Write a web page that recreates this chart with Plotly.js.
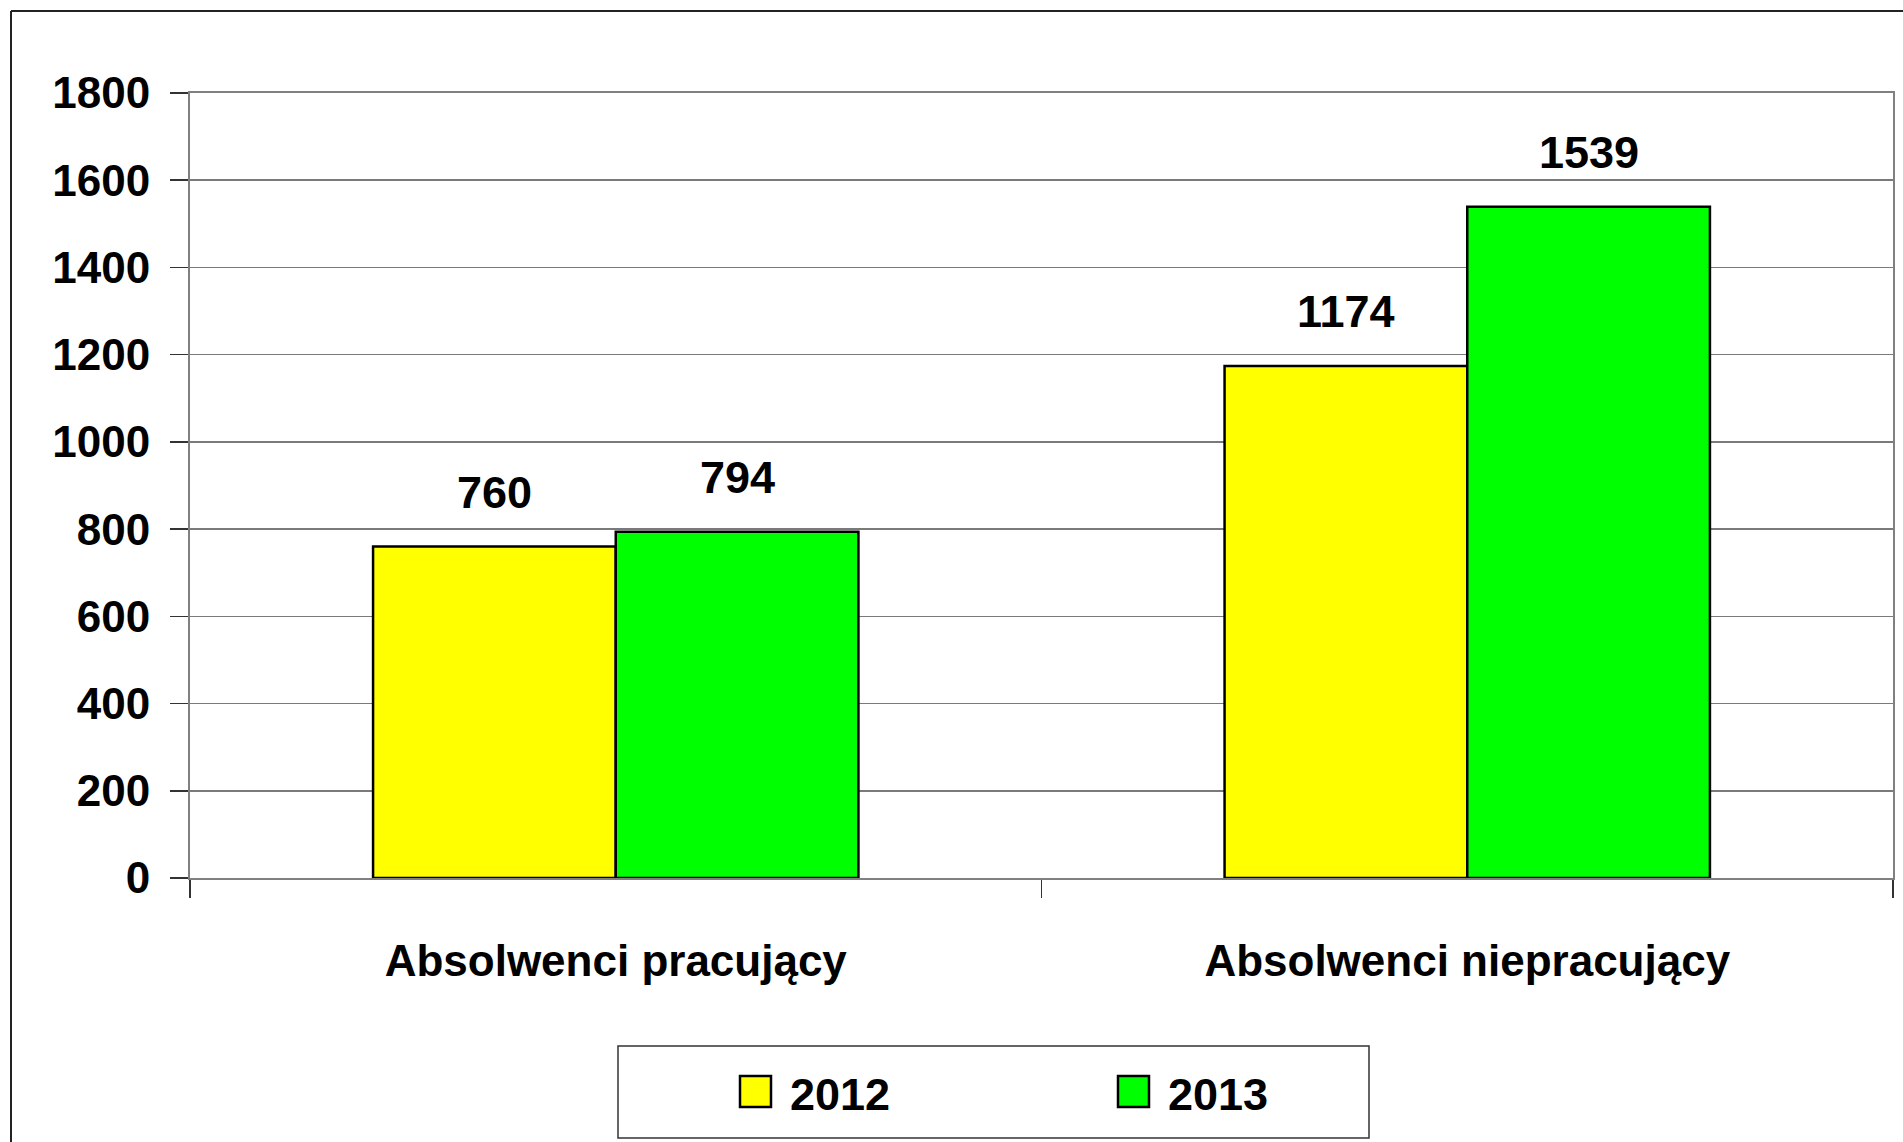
<!DOCTYPE html>
<html>
<head>
<meta charset="utf-8">
<script src="https://cdn.plot.ly/plotly-3.0.1.min.js"></script>
<style>
  html, body { margin: 0; padding: 0; background: #ffffff; }
  #chart { width: 1903px; height: 1142px; }
</style>
</head>
<body>
<div id="chart"></div>
<script>
// ---- data ----
const categories = ['Absolwenci pracujący', 'Absolwenci niepracujący'];
const seriesNames = ['2012', '2013'];
const values2012 = [760, 1174];
const values2013 = [794, 1539];
const yTickValues = [0, 200, 400, 600, 800, 1000, 1200, 1400, 1600, 1800];
const yRange = [0, 1800];

// ---- styles ----
const seriesColors = ['#FFFF00', '#00FF00'];
const FONT = '"Liberation Sans", Arial, sans-serif';
const W = 1903, H = 1142;
const M = { l: 190, r: 10, t: 93, b: 264 };
const PW = W - M.l - M.r, PH = H - M.t - M.b;
const BARGAP = 0.43;
const px = x => (x - M.l) / PW;
const py = y => (M.t + PH - y) / PH;

const seriesValues = [values2012, values2013];
const traces = seriesNames.map((name, i) => ({
  type: 'bar',
  name: name,
  x: categories,
  y: seriesValues[i],
  marker: { color: seriesColors[i], line: { color: '#000000', width: 2.5 } },
  showlegend: false,
  hoverinfo: 'x+y+name'
}));

// data labels above each bar
const catWidthPx = PW / categories.length;
const barWidthPx = catWidthPx * (1 - BARGAP) / seriesNames.length;
const annotations = [];
seriesNames.forEach((name, i) => {
  const shift = (i - (seriesNames.length - 1) / 2) * barWidthPx;
  categories.forEach((c, j) => {
    annotations.push({
      x: c, y: seriesValues[i][j], xref: 'x', yref: 'y',
      text: String(seriesValues[i][j]),
      showarrow: false, xanchor: 'center', yanchor: 'bottom',
      xshift: shift, yshift: 27,
      font: { family: FONT, size: 45, color: '#000000', weight: 'bold' }
    });
  });
});

// manual legend (box, swatches, labels)
const shapes = [
  // outer chart border (left and top)
  { type: 'line', xref: 'paper', yref: 'paper', x0: px(11), y0: py(11), x1: px(W + 5), y1: py(11), line: { color: '#222222', width: 2 } },
  { type: 'line', xref: 'paper', yref: 'paper', x0: px(11), y0: py(11), x1: px(11), y1: py(H + 5), line: { color: '#222222', width: 2 } },
  // legend box
  { type: 'rect', xref: 'paper', yref: 'paper', x0: px(618), y0: py(1138), x1: px(1369), y1: py(1046), line: { color: '#333333', width: 1.5 }, fillcolor: 'rgba(0,0,0,0)' }
];
const legendSwatchX = [740, 1118];
seriesNames.forEach((name, i) => {
  shapes.push({ type: 'rect', xref: 'paper', yref: 'paper',
    x0: px(legendSwatchX[i]), x1: px(legendSwatchX[i] + 31), y0: py(1107), y1: py(1076),
    fillcolor: seriesColors[i], line: { color: '#000000', width: 2.5 } });
  annotations.push({ xref: 'paper', yref: 'paper', x: px(legendSwatchX[i] + 48), y: py(1094),
    xanchor: 'left', yanchor: 'middle', showarrow: false, text: name,
    font: { family: FONT, size: 45, color: '#000000', weight: 'bold' } });
});

const layout = {
  width: W, height: H,
  margin: { l: M.l, r: M.r, t: M.t, b: M.b, pad: 0 },
  paper_bgcolor: '#ffffff', plot_bgcolor: '#ffffff',
  barmode: 'group', bargap: BARGAP, bargroupgap: 0,
  showlegend: false,
  xaxis: {
    type: 'category', tickson: 'boundaries',
    ticks: 'outside', ticklen: 18, tickwidth: 1.5, tickcolor: '#333333',
    showline: true, linecolor: '#808080', linewidth: 2, mirror: true,
    showgrid: false, zeroline: false,
    ticklabelstandoff: 43,
    tickfont: { family: FONT, size: 44, color: '#000000', weight: 'bold' }
  },
  yaxis: {
    range: yRange, tickvals: yTickValues, ticktext: yTickValues.map(String),
    ticks: 'outside', ticklen: 18, tickwidth: 1.5, tickcolor: '#333333',
    showline: true, linecolor: '#808080', linewidth: 2, mirror: true,
    showgrid: true, gridcolor: '#7a7a7a', gridwidth: 1.5, zeroline: false,
    ticklabelstandoff: 11,
    tickfont: { family: FONT, size: 44, color: '#000000', weight: 'bold' }
  },
  annotations: annotations,
  shapes: shapes
};

Plotly.newPlot('chart', traces, layout, { displayModeBar: false, staticPlot: true });
</script>
</body>
</html>
